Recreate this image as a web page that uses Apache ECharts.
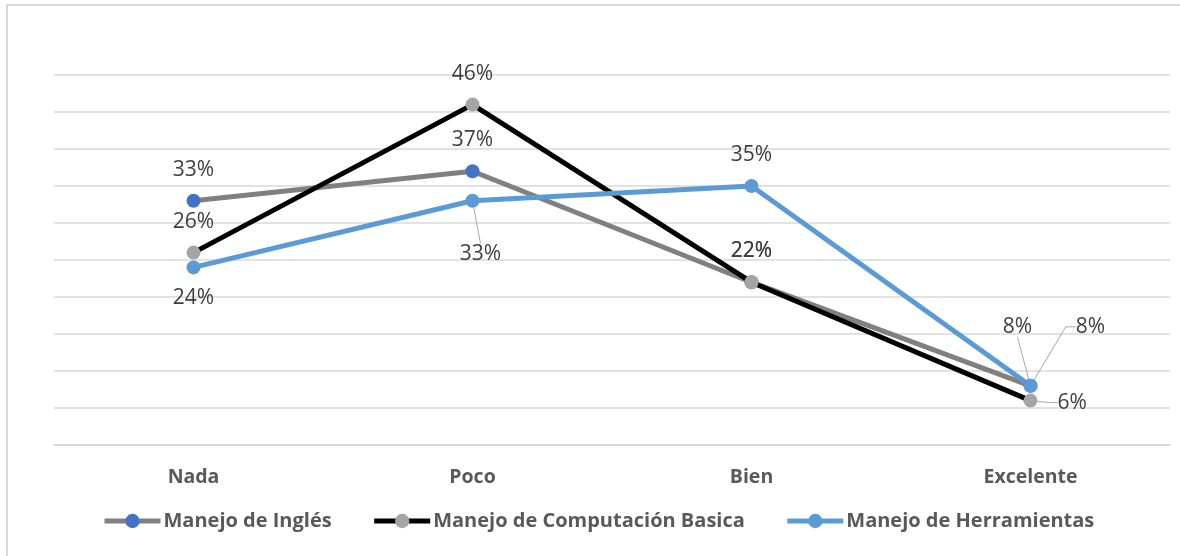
<!DOCTYPE html>
<html>
<head>
<meta charset="utf-8">
<script src="https://cdn.jsdelivr.net/npm/echarts@6/dist/echarts.min.js"></script>
<style>
  html, body { margin: 0; padding: 0; background: #ffffff; }
  #frame { position: absolute; left: 6px; top: 4px; width: 1174px; height: 552px;
           border-top: 2px solid #d9d9d9; border-left: 2px solid #d9d9d9; box-sizing: border-box; }
  #chart { position: absolute; left: 0; top: 0; width: 1180px; height: 556px; }
</style>
</head>
<body>
<div id="frame"></div>
<div id="chart"></div>
<script>
// ---- data ----
const categories = ['Nada', 'Poco', 'Bien', 'Excelente'];
const seriesNames = ['Manejo de Inglés', 'Manejo de Computación Basica', 'Manejo de Herramientas'];
const ingles = [33, 37, 22, 8];
const computacion = [26, 46, 22, 6];
const herramientas = [24, 33, 35, 8];

const FONT = '"Open Sans", Lato, sans-serif';
const labelFmt = p => p.value + '%';
const baseLabel = {
  show: true, position: 'top', distance: 13.5, formatter: labelFmt,
  color: '#404040', fontSize: 21, fontFamily: FONT
};
const leaderStyle = { color: '#a6a6a6', width: 1 };

// attach per-point label tweaks (style only) to the plain value arrays
function points(values, tweaks) {
  return values.map((v, i) => tweaks[i] ? Object.assign({ value: v }, tweaks[i]) : v);
}
const withLeader = (len2) => ({ labelLine: { show: true, length2: len2, lineStyle: leaderStyle } });

const chart = echarts.init(document.getElementById('chart'), null, { renderer: 'canvas' });
chart.setOption({
  backgroundColor: 'transparent',
  animation: false,
  grid: { left: 54, right: 10, top: 75, bottom: 111 },
  xAxis: {
    type: 'category', data: categories, boundaryGap: true,
    axisLine: { lineStyle: { color: '#d9d9d9', width: 1.5 } },
    axisTick: { show: false },
    axisLabel: { color: '#595959', fontSize: 19.5, fontWeight: 'bold', fontFamily: FONT, margin: 22 }
  },
  yAxis: {
    type: 'value', min: 0, max: 50, interval: 5,
    axisLabel: { show: false }, axisLine: { show: false }, axisTick: { show: false },
    splitLine: { lineStyle: { color: '#d9d9d9', width: 1.5 } }
  },
  legend: {
    bottom: 20, left: 97, itemWidth: 56, itemHeight: 18, itemGap: 40,
    lineStyle: { width: 'inherit' },
    textStyle: { color: '#595959', fontSize: 20, fontWeight: 'bold', fontFamily: FONT, padding: [0, 0, 0, -2] },
    data: seriesNames
  },
  series: [
    {
      name: seriesNames[0], type: 'line',
      data: points(ingles, { 3: withLeader(0) }),
      symbol: 'circle', symbolSize: 14,
      lineStyle: { color: '#808080', width: 5 },
      itemStyle: { color: '#4472c4' },
      label: baseLabel,
      labelLayout: p => p.dataIndex === 3 ? { dx: -13, dy: -28 } : {}
    },
    {
      name: seriesNames[1], type: 'line',
      data: points(computacion, {
        3: Object.assign({ label: { position: 'right', distance: 20 } }, withLeader(8))
      }),
      symbol: 'circle', symbolSize: 14,
      lineStyle: { color: '#000000', width: 5 },
      itemStyle: { color: '#a5a5a5' },
      label: baseLabel,
      labelLayout: p => p.dataIndex === 3 ? { dy: 2 } : {}
    },
    {
      name: seriesNames[2], type: 'line',
      data: points(herramientas, {
        0: { label: { position: 'bottom' } },
        1: Object.assign({ label: { position: 'bottom' } }, withLeader(0)),
        3: withLeader(10)
      }),
      symbol: 'circle', symbolSize: 14,
      lineStyle: { color: '#5b9bd5', width: 5 },
      itemStyle: { color: '#5b9bd5' },
      label: baseLabel,
      labelLayout: p => {
        if (p.dataIndex === 1) return { dx: 8, dy: 22 };
        if (p.dataIndex === 3) return { dx: 60, dy: -28 };
        return {};
      }
    }
  ]
});
</script>
</body>
</html>
